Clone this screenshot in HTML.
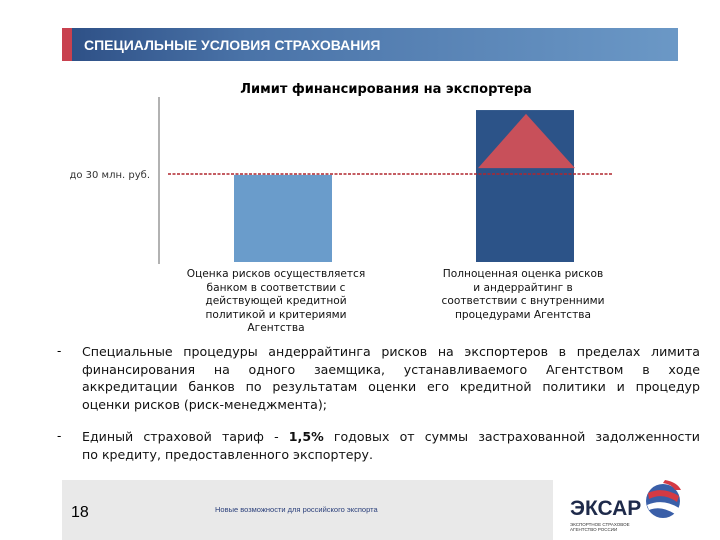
<!DOCTYPE html>
<html><head><meta charset="utf-8"><style>
body{margin:0;width:720px;height:540px;background:#fff;position:relative;overflow:hidden;font-family:"Liberation Sans","DejaVu Sans",sans-serif}
.abs{position:absolute}
.bl{position:absolute;left:82px;width:618px;font-family:"DejaVu Sans",sans-serif;font-size:12.6px;line-height:17.5px;color:#111}
.bl div{text-align:justify;text-align-last:justify;white-space:nowrap}
.bl div.last{text-align-last:left}
.dash{position:absolute;left:57px;font-size:13px}
.cap{position:absolute;font-family:"DejaVu Sans",sans-serif;font-size:10.6px;line-height:13.6px;text-align:center;color:#111}
</style></head><body>
<div class="abs" style="left:62px;top:28px;width:616px;height:33px;background:linear-gradient(90deg,#2d4f85 0%,#4a73a8 30%,#6b98c6 100%)"></div>
<div class="abs" style="left:62px;top:28px;width:10px;height:33px;background:#c8414f"></div>
<div class="abs" style="left:84px;top:37px;color:#fff;font-weight:bold;font-size:14px">СПЕЦИАЛЬНЫЕ УСЛОВИЯ СТРАХОВАНИЯ</div>
<svg class="abs" style="left:0;top:0" width="720" height="345">
<text x="386" y="93" text-anchor="middle" font-size="13" font-weight="bold" font-family="DejaVu Sans, sans-serif">Лимит финансирования на экспортера</text>
<line x1="159" y1="97" x2="159" y2="264" stroke="#666" stroke-width="1"/>
<g id="marks"></g>
<text x="150" y="178" text-anchor="end" font-size="10" fill="#333" font-family="DejaVu Sans, sans-serif">до 30 млн. руб.</text>
</svg>
<script>
const categories=["Банк","Агентство"];
const values=[29.7,51.8];
const threshold=30;
const triangleBase=32, triangleTop=50.5;
const y=v=>262-v*(88/30);
const xs=[234,476], bw=98;
const g=document.getElementById('marks'), NS='http://www.w3.org/2000/svg';
const colors=['#6a9ccb','#2c5388'];
values.forEach((v,i)=>{const r=document.createElementNS(NS,'rect');
r.setAttribute('x',xs[i]);r.setAttribute('y',y(v));r.setAttribute('width',bw);r.setAttribute('height',y(0)-y(v));r.setAttribute('fill',colors[i]);


g.appendChild(r);});
const t=document.createElementNS(NS,'polygon');
t.setAttribute('points',`${xs[1]+2},${y(triangleBase)} ${xs[1]+bw+1},${y(triangleBase)} ${xs[1]+bw/2+1},${y(triangleTop)}`);
t.setAttribute('fill','#c8505a');


g.appendChild(t);
const l=document.createElementNS(NS,'line');
l.setAttribute('x1',168);l.setAttribute('x2',612);l.setAttribute('y1',y(threshold));l.setAttribute('y2',y(threshold));
l.setAttribute('stroke','#b0262e');l.setAttribute('stroke-width','1.5');l.setAttribute('stroke-dasharray','3,1.5');


g.appendChild(l);
</script>
<div class="cap" style="left:176px;top:268px;width:200px">Оценка рисков осуществляется<br>банком в соответствии с<br>действующей кредитной<br>политикой и критериями<br>Агентства</div>
<div class="cap" style="left:423px;top:268px;width:200px">Полноценная оценка рисков<br>и андеррайтинг в<br>соответствии с внутренними<br>процедурами Агентства</div>
<div class="dash" style="top:343px">-</div>
<div class="bl" style="top:343px"><div>Специальные процедуры андеррайтинга рисков на экспортеров в пределах лимита</div><div>финансирования на одного заемщика, устанавливаемого Агентством в ходе</div><div>аккредитации банков по результатам оценки его кредитной политики и процедур</div><div class="last">оценки рисков (риск-менеджмента);</div></div>
<div class="dash" style="top:428px">-</div>
<div class="bl" style="top:428px"><div>Единый страховой тариф - <b>1,5%</b> годовых от суммы застрахованной задолженности</div><div class="last">по кредиту, предоставленного экспортеру.</div></div>
<div class="abs" style="left:62px;top:480px;width:491px;height:60px;background:#e9e9e9"></div>
<div class="abs" style="left:71px;top:504px;font-size:16px">18</div>
<div class="abs" style="left:215px;top:505px;font-size:7.5px;color:#2a3f7a">Новые возможности для российского экспорта</div>
<div class="abs" style="left:570px;top:497px;font-size:21px;font-weight:bold;color:#1e2a4a">ЭКСАР</div>
<div class="abs" style="left:570px;top:522px;font-size:4.5px;line-height:5px;color:#333">ЭКСПОРТНОЕ СТРАХОВОЕ<br>АГЕНТСТВО РОССИИ</div>
<svg class="abs" style="left:643px;top:478px" width="40" height="44">
<circle cx="20" cy="23" r="17" fill="#3a5fa8"/>
<path d="M5 15 Q20 8 36 18 L34 24 Q20 14 6 21Z" fill="#d43a44"/>
<path d="M4 27 Q20 20 36 30 L32 36 Q18 27 6 32Z" fill="#fff"/>
<path d="M22 2 Q34 4 38 12 L32 12 Q28 6 20 5Z" fill="#d43a44"/>
</svg>
</body></html>
